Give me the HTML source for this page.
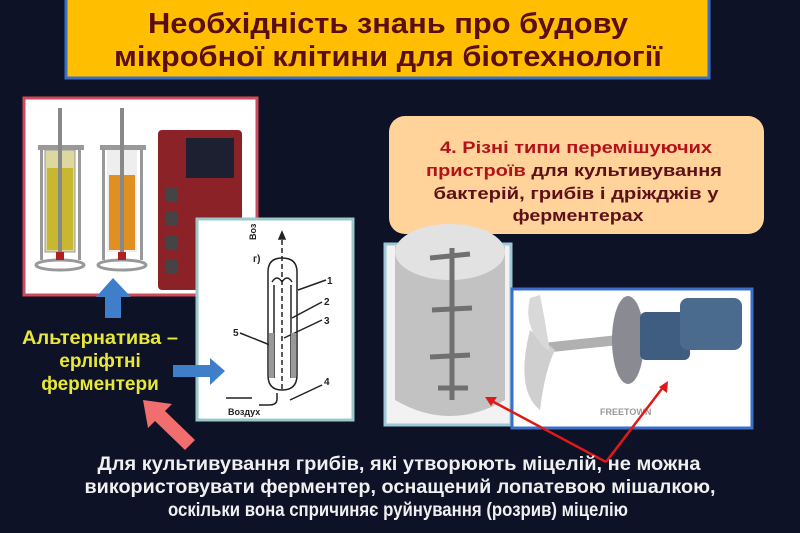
<!DOCTYPE html>
<html><head><meta charset="utf-8"><style>
html,body{margin:0;padding:0;background:#0d1226;}
svg{display:block}
text{font-family:"Liberation Sans",sans-serif;font-weight:bold}
</style></head><body>
<svg width="800" height="533" viewBox="0 0 800 533" xmlns="http://www.w3.org/2000/svg">
<rect width="800" height="533" fill="#0d1226"/>
<!-- title -->
<rect x="66" y="-4" width="643" height="82" fill="#ffbf00" stroke="#3a6fc8" stroke-width="3"/>
<text x="388" y="33" font-size="29" fill="#5a0e12" text-anchor="middle" textLength="480" lengthAdjust="spacingAndGlyphs">Необхідність знань про будову</text>
<text x="388" y="66" font-size="29" fill="#5a0e12" text-anchor="middle" textLength="548" lengthAdjust="spacingAndGlyphs">мікробної клітини для біотехнології</text>

<!-- left photo -->
<rect x="24" y="98" width="233" height="197" fill="#ffffff" stroke="#d04a5a" stroke-width="3"/>
<g>
 <rect x="38" y="145" width="46" height="5" fill="#999"/>
 <rect x="45" y="150" width="30" height="102" fill="#ddd8a0" stroke="#999"/>
 <rect x="47" y="168" width="26" height="82" fill="#c8b830"/>
 <rect x="58" y="108" width="4" height="150" fill="#888"/>
 <rect x="40" y="150" width="3" height="110" fill="#999"/><rect x="78" y="150" width="3" height="110" fill="#999"/>
 <ellipse cx="60" cy="265" rx="24" ry="5" fill="none" stroke="#999" stroke-width="3"/>
 <rect x="56" y="252" width="8" height="8" fill="#b02020"/>
 <rect x="100" y="145" width="46" height="5" fill="#999"/>
 <rect x="107" y="150" width="30" height="102" fill="#eee"/>
 <rect x="109" y="175" width="26" height="75" fill="#e09020"/>
 <rect x="120" y="108" width="4" height="150" fill="#888"/>
 <rect x="102" y="150" width="3" height="110" fill="#999"/><rect x="140" y="150" width="3" height="110" fill="#999"/>
 <ellipse cx="122" cy="265" rx="24" ry="5" fill="none" stroke="#999" stroke-width="3"/>
 <rect x="118" y="252" width="8" height="8" fill="#b02020"/>
 <rect x="158" y="130" width="84" height="160" rx="4" fill="#8a2228"/>
 <rect x="186" y="138" width="48" height="40" fill="#1c2030"/>
 <rect x="166" y="188" width="12" height="14" fill="#444"/><rect x="166" y="212" width="12" height="14" fill="#444"/>
 <rect x="166" y="236" width="12" height="14" fill="#444"/><rect x="166" y="260" width="12" height="14" fill="#444"/>
</g>

<!-- diagram box -->
<rect x="197" y="219" width="156" height="201" fill="#ffffff" stroke="#9cc8c8" stroke-width="3"/>
<g stroke="#222" fill="none" stroke-width="1.5">
 <path d="M268 272 Q268 258 282 258 Q297 258 297 272 L297 375 Q297 390 282 390 Q268 390 268 375 Z"/>
 <line x1="282" y1="232" x2="282" y2="390" stroke-dasharray="5,3"/>
 <path d="M282 232 l-3 7 h6 z" fill="#222"/>
 <line x1="274" y1="285" x2="274" y2="378"/><line x1="291" y1="285" x2="291" y2="378"/>
 <path d="M272 282 q5 -8 10 0 q5 -8 10 0"/>
 <path d="M277 393 v6 q0 6 -8 6 h-10"/>
 <line x1="226" y1="398" x2="252" y2="398"/>
 <line x1="298" y1="290" x2="326" y2="280"/><line x1="292" y1="318" x2="322" y2="302"/>
 <line x1="284" y1="338" x2="322" y2="320"/><line x1="240" y1="333" x2="270" y2="345"/>
 <line x1="290" y1="400" x2="322" y2="385"/>
</g>
<rect x="269" y="333" width="5" height="45" fill="#999"/><rect x="291" y="333" width="5" height="45" fill="#999"/>
<g font-size="10" fill="#222">
 <text x="327" y="284" font-weight="normal">1</text><text x="324" y="305" font-weight="normal">2</text>
 <text x="324" y="324" font-weight="normal">3</text><text x="233" y="336" font-weight="normal">5</text>
 <text x="324" y="385" font-weight="normal">4</text><text x="253" y="262" font-weight="normal">г)</text>
 <text x="228" y="415" font-size="9" font-weight="normal">Воздух</text>
 <text x="0" y="0" font-size="9" font-weight="normal" transform="translate(256 240) rotate(-90)">Воз</text>
</g>

<!-- peach box -->
<rect x="389" y="116" width="375" height="118" rx="16" fill="#ffd39a"/>
<text x="576" y="153" font-size="17" fill="#b3121a" text-anchor="middle" textLength="272" lengthAdjust="spacingAndGlyphs">4. Різні типи перемішуючих</text>
<text x="574" y="176" font-size="17" fill="#5e1018" text-anchor="middle" textLength="296" lengthAdjust="spacingAndGlyphs"><tspan fill="#b3121a">пристроїв</tspan> для культивування</text>
<text x="576" y="199" font-size="17" fill="#5e1018" text-anchor="middle" textLength="285" lengthAdjust="spacingAndGlyphs">бактерій, грибів  і дріжджів у</text>
<text x="578" y="221" font-size="17" fill="#5e1018" text-anchor="middle" textLength="131" lengthAdjust="spacingAndGlyphs">ферментерах</text>

<!-- gray cylinder -->
<rect x="385" y="244" width="126" height="181" fill="#f2f2f2" stroke="#9cc8d8" stroke-width="3"/>
<path d="M395 246 L505 246 L505 400 Q450 432 395 400 Z" fill="#c2c2c2"/>
<ellipse cx="450" cy="252" rx="55" ry="28" fill="#e2e2e2"/>
<g stroke="#707070" stroke-width="5" fill="none">
 <line x1="452" y1="248" x2="452" y2="400"/>
 <line x1="430" y1="258" x2="470" y2="254"/><line x1="432" y1="310" x2="472" y2="308"/>
 <line x1="430" y1="357" x2="470" y2="355"/><line x1="438" y1="388" x2="468" y2="388"/>
</g>

<!-- motor image -->
<rect x="512" y="289" width="240" height="139" fill="#ffffff" stroke="#3a6fc8" stroke-width="3"/>
<rect x="545" y="338" width="95" height="10" fill="#b0b0b0" transform="rotate(-6 590 343)"/>
<path d="M530 330 Q515 390 540 410 Q545 370 555 350 Z" fill="#cfcfcf"/>
<path d="M530 298 Q522 330 550 352 Q545 320 540 295 Z" fill="#d8d8d8"/>
<ellipse cx="628" cy="340" rx="16" ry="44" fill="#8a8a92"/>
<rect x="640" y="312" width="50" height="48" rx="6" fill="#3e5d80"/>
<rect x="680" y="298" width="62" height="52" rx="8" fill="#4a6a8e"/>
<text x="600" y="415" font-size="9" fill="#999">FREETOWN</text>

<!-- blue arrows -->
<path d="M113 278 L131 297 L121 297 L121 318 L105 318 L105 297 L96 297 Z" fill="#3f7ec8"/>
<path d="M173 365 L210 365 L210 358 L225 371 L210 385 L210 377 L173 377 Z" fill="#3f7ec8"/>
<!-- pink arrow -->
<path d="M143 400 L172 404 L165 411 L195 440 L185 450 L155 421 L148 428 Z" fill="#f26d6d"/>

<!-- yellow text -->
<text x="100" y="344" font-size="19" fill="#e8e838" text-anchor="middle" textLength="156" lengthAdjust="spacingAndGlyphs">Альтернатива –</text>
<text x="100" y="367" font-size="19" fill="#e8e838" text-anchor="middle">ерліфтні</text>
<text x="100" y="390" font-size="19" fill="#e8e838" text-anchor="middle">ферментери</text>

<!-- red lines -->
<g stroke="#e01818" stroke-width="2.5">
 <line x1="606" y1="462" x2="490" y2="400"/><line x1="606" y1="462" x2="664" y2="386"/>
</g>
<path d="M485 397 l12 0 l-6 9 z" fill="#e01818"/>
<path d="M668 381 l-1 12 l-8 -6 z" fill="#e01818"/>

<!-- bottom text -->
<text x="399" y="470" font-size="19" fill="#f0f0f0" text-anchor="middle" textLength="603" lengthAdjust="spacingAndGlyphs">Для культивування  грибів, які утворюють міцелій, не можна</text>
<text x="400" y="493" font-size="19" fill="#f0f0f0" text-anchor="middle" textLength="631" lengthAdjust="spacingAndGlyphs">використовувати ферментер, оснащений лопатевою мішалкою,</text>
<text x="398" y="516" font-size="19" fill="#f0f0f0" text-anchor="middle" textLength="460" lengthAdjust="spacingAndGlyphs">оскільки вона спричиняє руйнування (розрив) міцелію</text>
</svg>
</body></html>
